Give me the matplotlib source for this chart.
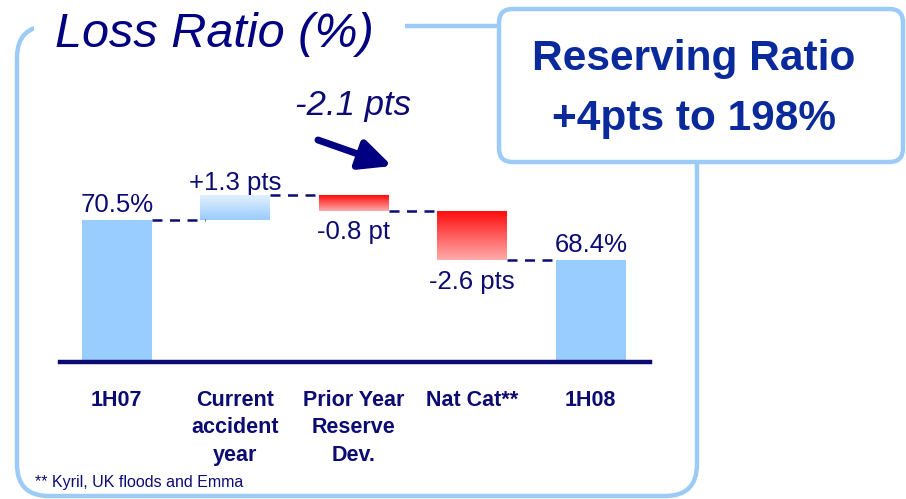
import numpy as np
import matplotlib
matplotlib.use("Agg")
import matplotlib.pyplot as plt
from matplotlib.patches import FancyBboxPatch, Rectangle, FancyArrowPatch
from matplotlib.colors import LinearSegmentedColormap

# ---- data ----
categories = ["1H07", "Current\naccident\nyear", "Prior Year\nReserve\nDev.", "Nat Cat**", "1H08"]
start_value = 70.5
deltas = [1.3, -0.8, -2.6]
end_value = 68.4
value_labels = ["70.5%", "+1.3 pts", "-0.8 pt", "-2.6 pts", "68.4%"]
title = "Loss Ratio (%)"
box_lines = ["Reserving Ratio", "+4pts to 198%"]
arrow_label = "-2.1 pts"
footnote = "** Kyril, UK floods and Emma"

W, H = 906, 499
NAVY = "#0B0B72"
LIGHT = "#99CCFF"
FRAME = "#9DCBF7"
BOXTXT = "#0A2A9C"
plt.rcParams['font.family'] = ['Liberation Sans', 'DejaVu Sans']

fig = plt.figure(figsize=(W / 100, H / 100), dpi=100)
fig.patch.set_facecolor("white")

def fx(x):
    return x / W

def fy(y):
    return 1 - y / H

# ---- frame ----
frame = FancyBboxPatch((fx(17), fy(496)), fx(697) - fx(17), fy(26) - fy(496),
                       boxstyle="round,pad=0,rounding_size=0.035",
                       transform=fig.transFigure, fill=False, edgecolor=FRAME,
                       linewidth=3.2, mutation_aspect=W / H, zorder=1)
fig.patches.append(frame)
fig.patches.append(Rectangle((fx(34), fy(40)), fx(405) - fx(34), fy(10) - fy(40),
                             transform=fig.transFigure, facecolor="white",
                             edgecolor="none", zorder=2))
box = FancyBboxPatch((fx(499), fy(162)), fx(903) - fx(499), fy(9) - fy(162),
                     boxstyle="round,pad=0,rounding_size=0.015",
                     transform=fig.transFigure, facecolor="white", edgecolor=FRAME,
                     linewidth=3.2, mutation_aspect=W / H, zorder=3)
fig.patches.append(box)

fig.text(fx(55), fy(47), title, fontsize=35, style="italic", color="#000080",
         ha="left", va="baseline", zorder=5)
fig.text(fx(694), fy(59), box_lines[0], fontsize=30.5, fontweight="bold", color=BOXTXT,
         ha="center", va="center", zorder=5)
fig.text(fx(694), fy(119), box_lines[1], fontsize=30.5, fontweight="bold", color=BOXTXT,
         ha="center", va="center", zorder=5)
fig.text(fx(35), fy(483), footnote, fontsize=11.5, color=NAVY, ha="left", va="center")

# ---- chart axes ----
base = 63.05
px_per_pt = 19.05
top_px = 150
ax = fig.add_axes([fx(60), fy(362), fx(650) - fx(60), (362 - top_px) / H])
ax.patch.set_alpha(0)
for s in ["top", "right", "left"]:
    ax.spines[s].set_visible(False)
ax.spines["bottom"].set_color(NAVY)
ax.spines["bottom"].set_linewidth(3.2)
ax.set_yticks([])

# waterfall geometry from data
levels = [start_value]
for d in deltas:
    levels.append(levels[-1] + d)
bottoms, tops = [base], [start_value]
for i, d in enumerate(deltas):
    lo, hi = sorted([levels[i], levels[i + 1]])
    bottoms.append(lo); tops.append(hi)
bottoms.append(base); tops.append(end_value)

x = np.arange(len(categories))
bw = 0.59
blue_grad = LinearSegmentedColormap.from_list("bg", ["#99CCFF", "#E2F0FD"])
red_grad = LinearSegmentedColormap.from_list("rg", ["#FFACAC", "#FF0A0A"])
grad = np.linspace(0, 1, 256).reshape(-1, 1)

for i in range(len(categories)):
    if i in (0, len(categories) - 1):
        ax.bar(x[i], tops[i] - bottoms[i], bottom=bottoms[i], width=bw,
               color=LIGHT, edgecolor="none", zorder=2)
    else:
        cmap = blue_grad if deltas[i - 1] > 0 else red_grad
        b = ax.bar(x[i], tops[i] - bottoms[i], bottom=bottoms[i], width=bw,
                   color="none", edgecolor="none", zorder=2)[0]
        im = ax.imshow(grad, cmap=cmap, origin="lower", aspect="auto",
                       extent=[x[i] - bw / 2, x[i] + bw / 2, bottoms[i], tops[i]],
                       zorder=2)
        im.set_clip_path(b)

ax.set_xlim(-0.48, 4.5)
ax.set_ylim(base, base + (362 - top_px) / px_per_pt)

# connectors
for i in range(len(levels)):
    ax.plot([x[i] + bw / 2, x[i + 1] - bw / 2 + (0.04 if i == 0 else 0)],
            [levels[i], levels[i]], color=NAVY, linewidth=1.8,
            linestyle=(0, (4, 3)), zorder=3)

# value labels
for i in range(len(categories)):
    if i == 0 or i == len(categories) - 1:
        ax.annotate(value_labels[i], (x[i], tops[i]), xytext=(0, 2),
                    textcoords="offset points", ha="center", va="bottom",
                    fontsize=18.5, color=NAVY)
    elif deltas[i - 1] > 0:
        ax.annotate(value_labels[i], (x[i], tops[i]), xytext=(0, 0),
                    textcoords="offset points", ha="center", va="bottom",
                    fontsize=18.5, color=NAVY)
    else:
        ax.annotate(value_labels[i], (x[i], bottoms[i]), xytext=(0, -7),
                    textcoords="offset points", ha="center", va="top",
                    fontsize=18.5, color=NAVY)

ax.set_xticks(x)
ax.set_xticklabels(categories, fontsize=15.5, fontweight="bold", color=NAVY)
ax.tick_params(axis="x", length=0, pad=20)
for lbl in ax.get_xticklabels():
    lbl.set_linespacing(1.4)
    lbl.set_multialignment("center")

# arrow annotation
fig.text(fx(353), fy(105), arrow_label, fontsize=25, style="italic", color=NAVY,
         ha="center", va="center")
fig.patches.append(FancyArrowPatch(
    (fx(318), fy(140)), (fx(392), fy(166)), transform=fig.transFigure,
    arrowstyle="-|>,head_length=19,head_width=9", mutation_scale=1,
    color="#000080", linewidth=5, shrinkA=0, shrinkB=0))

fig.savefig("out.png", dpi=100)
